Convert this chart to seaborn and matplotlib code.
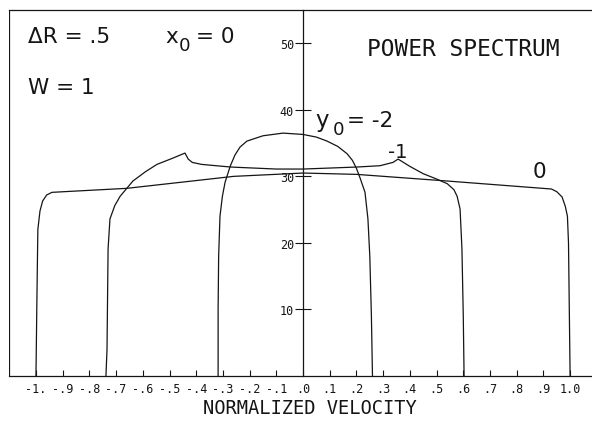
import numpy as np
import pandas as pd
import matplotlib
matplotlib.use("Agg")
import matplotlib.pyplot as plt
import seaborn as sns

# ---- data ----
y0_values = ["0", "-1", "-2"]

vel_y0_0 = [-1.0, -0.997, -0.993, -0.985, -0.975, -0.96, -0.94, -0.66, -0.26, 0.0,
            0.2, 0.54, 0.93, 0.95, 0.97, 0.982, 0.99, 0.994, 0.997, 1.0]
pow_y0_0 = [0, 10, 22, 24.8, 26.3, 27.2, 27.6, 28.2, 30.0, 30.5,
            30.3, 29.3, 28.1, 27.7, 26.9, 25.5, 24.0, 20.0, 10.0, 0]

vel_y0_m1 = [-0.738, -0.734, -0.730, -0.723, -0.705, -0.685, -0.637, -0.59, -0.547, -0.49,
             -0.442, -0.43, -0.415, -0.38, -0.27, -0.1, 0.0, 0.2, 0.288, 0.337,
             0.356, 0.40, 0.45, 0.50, 0.54, 0.565, 0.577, 0.588, 0.595, 0.600, 0.603]
pow_y0_m1 = [0, 4.0, 19.1, 23.6, 25.6, 27.0, 29.3, 30.7, 31.8, 32.7,
             33.5, 32.6, 32.1, 31.8, 31.4, 31.1, 31.1, 31.4, 31.6, 32.1,
             32.6, 31.5, 30.4, 29.6, 28.9, 28.0, 27.0, 25.1, 19.1, 9.0, 0]

vel_y0_m2 = [-0.318, -0.318, -0.316, -0.311, -0.302, -0.292, -0.273, -0.255, -0.236, -0.21,
             -0.15, -0.075, 0.0, 0.05, 0.09, 0.13, 0.165, 0.185, 0.2, 0.215,
             0.232, 0.243, 0.25, 0.256, 0.26]
pow_y0_m2 = [0, 10, 18, 24, 27, 29.1, 31.5, 33.2, 34.4, 35.3,
             36.1, 36.5, 36.3, 35.9, 35.3, 34.5, 33.4, 32.4, 31.2, 29.6,
             27.6, 23.6, 18, 9, 0]

x_ticks = [-1.0, -0.9, -0.8, -0.7, -0.6, -0.5, -0.4, -0.3, -0.2, -0.1,
           0.0, 0.1, 0.2, 0.3, 0.4, 0.5, 0.6, 0.7, 0.8, 0.9, 1.0]
x_tick_labels = ["-1.", "-.9", "-.8", "-.7", "-.6", "-.5", "-.4", "-.3", "-.2", "-.1",
                 ".0", ".1", ".2", ".3", ".4", ".5", ".6", ".7", ".8", ".9", "1.0"]
y_ticks = [10, 20, 30, 40, 50]
y_tick_labels = ["10", "20", "30", "40", "50"]

df = pd.concat([
    pd.DataFrame({"vel": vel_y0_0, "pow": pow_y0_0, "y0": y0_values[0]}),
    pd.DataFrame({"vel": vel_y0_m1, "pow": pow_y0_m1, "y0": y0_values[1]}),
    pd.DataFrame({"vel": vel_y0_m2, "pow": pow_y0_m2, "y0": y0_values[2]}),
], ignore_index=True)

# ---- style ----
sns.set_style("white")
plt.rcParams["font.family"] = ["DejaVu Sans"]
INK = "#151515"
MONO = "DejaVu Sans Mono"

fig = plt.figure(figsize=(5.92, 4.27), dpi=100)
ax = fig.add_axes([9 / 592, 50 / 427, 583 / 592, 366 / 427])

XMIN, XMAX = -1.101, 1.082
sns.lineplot(data=df, x="vel", y="pow", hue="y0", sort=False, estimator=None,
             palette=[INK] * 3, legend=False, linewidth=0.9, ax=ax)

ax.set_xlim(XMIN, XMAX)
ax.set_ylim(0, 55)

# axes: y-axis through zero, frame on left/top
ax.spines["left"].set_position(("data", 0))
ax.spines["right"].set_visible(False)
for s in ["left", "top", "bottom"]:
    ax.spines[s].set_color(INK)
    ax.spines[s].set_linewidth(0.9)
ax.axvline(XMIN, color=INK, lw=1.6)

ax.set_xticks(x_ticks)
ax.set_xticklabels(x_tick_labels, fontfamily=MONO, fontsize=8.5, color=INK)
ax.set_yticks(y_ticks)
ax.set_yticklabels(y_tick_labels, fontfamily=MONO, fontsize=8.5, color=INK)
ax.tick_params(axis="x", direction="in", length=4.5, width=0.8, color=INK, pad=4,
               bottom=True)
ax.tick_params(axis="y", direction="inout", length=11, width=0.8, color=INK, pad=1,
               left=True)

ax.set_xlabel("NORMALIZED VELOCITY", fontfamily=MONO, fontsize=13.5, color=INK)
ax.xaxis.set_label_coords(0.516, -0.087)
ax.xaxis.label.set_va("center")
ax.set_ylabel("")

# ---- annotations ----
ax.text(0.24, 48.3, "POWER SPECTRUM", fontfamily=MONO, fontsize=16.5, color=INK,
        va="baseline", ha="left")

big = 15.5
ax.text(-1.03, 50.2, "\u0394R = .5", fontsize=big, color=INK, va="baseline")
ax.text(-0.517, 50.2, "x", fontsize=big, color=INK, va="baseline")
ax.text(-0.466, 49.0, "0", fontsize=big * 0.85, color=INK, va="baseline")
ax.text(-0.40, 50.2, "= 0", fontsize=big, color=INK, va="baseline")
ax.text(-1.03, 42.6, "W = 1", fontsize=big, color=INK, va="baseline")

ax.text(0.045, 37.6, "y", fontsize=big + 1, color=INK, va="baseline")
ax.text(0.11, 36.3, "0", fontsize=big * 0.85, color=INK, va="baseline")
ax.text(0.165, 37.6, "= -2", fontsize=big, color=INK, va="baseline")
ax.text(0.318, 32.9, "-1", fontsize=14, color=INK, va="baseline")
ax.text(0.858, 29.9, "0", fontsize=big, color=INK, va="baseline")

fig.savefig("out.png", dpi=100, facecolor="white")
